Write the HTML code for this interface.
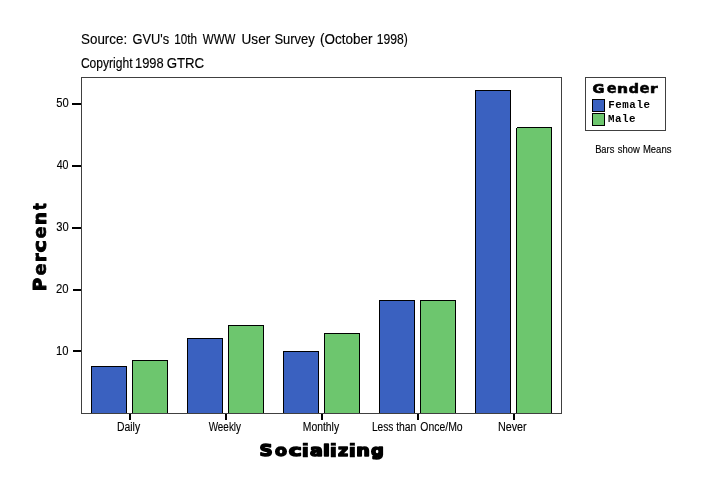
<!DOCTYPE html>
<html><head><meta charset="utf-8"><title>Socializing</title>
<style>
html,body{margin:0;padding:0;background:#fff;}
body{width:724px;height:496px;overflow:hidden;position:relative;}
svg{position:absolute;left:0;top:0;display:block;}
text{font-family:"Liberation Sans",sans-serif;fill:#000;white-space:pre;}
.t14{font-size:14px;stroke:#000;stroke-width:0.15px;}
.t12{font-size:12px;stroke:#000;stroke-width:0.12px;}
.t11{font-size:11px;stroke:#000;stroke-width:0.15px;}
.blk{font-family:"DejaVu Sans","Liberation Sans",sans-serif;font-weight:bold;font-size:18.6px;stroke:#000;stroke-width:0.7px;stroke-linejoin:round;}
.mono{font-family:"Liberation Mono",monospace;font-size:10.8px;font-weight:bold;}
</style></head><body>
<svg width="724" height="496" viewBox="0 0 724 496">
<rect x="0" y="0" width="724" height="496" fill="#fff"/>
<g shape-rendering="crispEdges">
<rect x="81.5" y="77.5" width="480" height="336" fill="#fff" stroke="#404040" stroke-width="1"/>
<g fill="#000">
<rect x="72" y="103" width="9" height="2"/>
<rect x="72" y="165" width="9" height="2"/>
<rect x="72" y="227" width="9" height="2"/>
<rect x="73" y="289" width="8" height="2"/>
<rect x="73" y="350" width="8" height="2"/>
<rect x="129" y="414" width="2" height="6"/>
<rect x="225" y="414" width="2" height="6"/>
<rect x="321" y="414" width="2" height="6"/>
<rect x="417" y="414" width="2" height="6"/>
<rect x="513" y="414" width="2" height="6"/>
</g>
<g stroke="#000" stroke-width="1">
<rect x="91.5" y="366.5" width="35" height="47" fill="#3A61C0"/>
<rect x="132.5" y="360.5" width="35" height="53" fill="#6DC66E"/>
<rect x="187.5" y="338.5" width="35" height="75" fill="#3A61C0"/>
<rect x="228.5" y="325.5" width="35" height="88" fill="#6DC66E"/>
<rect x="283.5" y="351.5" width="35" height="62" fill="#3A61C0"/>
<rect x="324.5" y="333.5" width="35" height="80" fill="#6DC66E"/>
<rect x="379.5" y="300.5" width="35" height="113" fill="#3A61C0"/>
<rect x="420.5" y="300.5" width="35" height="113" fill="#6DC66E"/>
<rect x="475.5" y="90.5" width="35" height="323" fill="#3A61C0"/>
<rect x="516.5" y="127.5" width="35" height="286" fill="#6DC66E"/>
</g>
<rect x="516" y="127" width="1" height="1" fill="#fff"/>
<rect x="81" y="413" width="481" height="1" fill="#404040"/>
<rect x="585.5" y="77.5" width="80" height="53" fill="#fff" stroke="#404040" stroke-width="1"/>
<rect x="592.5" y="99.5" width="12" height="12" fill="#3A61C0" stroke="#000"/>
<rect x="592.5" y="113.5" width="12" height="12" fill="#6DC66E" stroke="#000"/>
</g>
<text y="44" class="t14" ><tspan x="81.09" textLength="46.03" lengthAdjust="spacingAndGlyphs">Source:</tspan> <tspan x="132.46" textLength="36.61" lengthAdjust="spacingAndGlyphs">GVU's</tspan> <tspan x="174.31" textLength="22.75" lengthAdjust="spacingAndGlyphs">10th</tspan> <tspan x="202.85" textLength="32.59" lengthAdjust="spacingAndGlyphs">WWW</tspan> <tspan x="241.55" textLength="28.67" lengthAdjust="spacingAndGlyphs">User</tspan> <tspan x="274.41" textLength="40.31" lengthAdjust="spacingAndGlyphs">Survey</tspan> <tspan x="319.96" textLength="52.46" lengthAdjust="spacingAndGlyphs">(October</tspan> <tspan x="376.67" textLength="31.08" lengthAdjust="spacingAndGlyphs">1998)</tspan></text>
<text y="68" class="t14" ><tspan x="80.89" textLength="51.7" lengthAdjust="spacingAndGlyphs">Copyright</tspan> <tspan x="135.02" textLength="28.64" lengthAdjust="spacingAndGlyphs">1998</tspan> <tspan x="166.63" textLength="37.57" lengthAdjust="spacingAndGlyphs">GTRC</tspan></text>
<text y="107" class="t12" ><tspan x="56.15" textLength="12.49" lengthAdjust="spacingAndGlyphs">50</tspan></text>
<text y="169" class="t12" ><tspan x="56.66" textLength="11.86" lengthAdjust="spacingAndGlyphs">40</tspan></text>
<text y="231" class="t12" ><tspan x="56.17" textLength="12.46" lengthAdjust="spacingAndGlyphs">30</tspan></text>
<text y="293" class="t12" ><tspan x="56.03" textLength="12.61" lengthAdjust="spacingAndGlyphs">20</tspan></text>
<text y="355" class="t12" ><tspan x="56.04" textLength="12.49" lengthAdjust="spacingAndGlyphs">10</tspan></text>
<text y="431" class="t12" ><tspan x="117.05" textLength="23.07" lengthAdjust="spacingAndGlyphs">Daily</tspan></text>
<text y="431" class="t12" ><tspan x="208.66" textLength="32.36" lengthAdjust="spacingAndGlyphs">Weekly</tspan></text>
<text y="431" class="t12" ><tspan x="302.85" textLength="36.27" lengthAdjust="spacingAndGlyphs">Monthly</tspan></text>
<text y="431" class="t12" ><tspan x="371.96" textLength="21.5" lengthAdjust="spacingAndGlyphs">Less</tspan> <tspan x="396.14" textLength="20.18" lengthAdjust="spacingAndGlyphs">than</tspan> <tspan x="420.31" textLength="42.33" lengthAdjust="spacingAndGlyphs">Once/Mo</tspan></text>
<text y="431" class="t12" ><tspan x="497.92" textLength="28.76" lengthAdjust="spacingAndGlyphs">Never</tspan></text>
<text y="456" class="blk" style="font-size:16.5px;stroke-width:1.5px" id="soc"><tspan x="259.44" textLength="13.15" lengthAdjust="spacingAndGlyphs" y="456">S</tspan><tspan x="275.00" textLength="12.00" lengthAdjust="spacingAndGlyphs" y="456">o</tspan><tspan x="288.82" textLength="12.89" lengthAdjust="spacingAndGlyphs" y="456">c</tspan><tspan x="300.89" textLength="9.22" lengthAdjust="spacingAndGlyphs" style="font-size:18.4px;stroke-width:0.3px" y="457">i</tspan><tspan x="309.93" textLength="12.81" lengthAdjust="spacingAndGlyphs" y="456">a</tspan><tspan x="323.07" textLength="6.86" lengthAdjust="spacingAndGlyphs" y="456">l</tspan><tspan x="328.89" textLength="9.22" lengthAdjust="spacingAndGlyphs" style="font-size:18.4px;stroke-width:0.3px" y="457">i</tspan><tspan x="337.97" textLength="10.11" lengthAdjust="spacingAndGlyphs" y="456">z</tspan><tspan x="347.89" textLength="9.22" lengthAdjust="spacingAndGlyphs" style="font-size:18.4px;stroke-width:0.3px" y="457">i</tspan><tspan x="356.15" textLength="13.60" lengthAdjust="spacingAndGlyphs" y="456">n</tspan><tspan x="370.95" textLength="12.81" lengthAdjust="spacingAndGlyphs" y="456">g</tspan></text>
<text y="0" class="blk" style="font-size:17.0px;stroke-width:1.0px" id="pct" transform="translate(45.5,290) rotate(-90)"><tspan x="-1.18" textLength="13.43" lengthAdjust="spacingAndGlyphs" y="0">P</tspan><tspan x="14.54" textLength="12.02" lengthAdjust="spacingAndGlyphs" style="font-size:17.4px;stroke-width:0.6px" y="0">e</tspan><tspan x="28.05" textLength="8.50" lengthAdjust="spacingAndGlyphs" y="0">r</tspan><tspan x="37.61" textLength="12.28" lengthAdjust="spacingAndGlyphs" y="0">c</tspan><tspan x="51.54" textLength="12.02" lengthAdjust="spacingAndGlyphs" style="font-size:17.4px;stroke-width:0.6px" y="0">e</tspan><tspan x="64.97" textLength="12.95" lengthAdjust="spacingAndGlyphs" y="0">n</tspan><tspan x="80.32" textLength="6.49" lengthAdjust="spacingAndGlyphs" y="0">t</tspan></text>
<text y="93" class="blk" style="font-size:13.0px;stroke-width:0.7px" id="gen"><tspan x="592.63" textLength="11.89" lengthAdjust="spacingAndGlyphs" y="93">G</tspan><tspan x="606.65" textLength="9.88" lengthAdjust="spacingAndGlyphs" style="font-size:13.4px;stroke-width:0.35px" y="93">e</tspan><tspan x="616.95" textLength="11.01" lengthAdjust="spacingAndGlyphs" y="93">n</tspan><tspan x="628.71" textLength="10.12" lengthAdjust="spacingAndGlyphs" y="93">d</tspan><tspan x="639.43" textLength="10.11" lengthAdjust="spacingAndGlyphs" style="font-size:13.4px;stroke-width:0.35px" y="93">e</tspan><tspan x="650.07" textLength="7.53" lengthAdjust="spacingAndGlyphs" y="93">r</tspan></text>
<text id="fem" class="mono" x="608.3" y="108" textLength="41.6" lengthAdjust="spacing">Female</text>
<text id="mal" class="mono" x="608.0" y="122" textLength="27.6" lengthAdjust="spacing">Male</text>
<text y="153" class="t11" ><tspan x="595.13" textLength="19.2" lengthAdjust="spacingAndGlyphs">Bars</tspan> <tspan x="617.74" textLength="21.99" lengthAdjust="spacingAndGlyphs">show</tspan> <tspan x="642.92" textLength="28.52" lengthAdjust="spacingAndGlyphs">Means</tspan></text>
</svg>
</body></html>
